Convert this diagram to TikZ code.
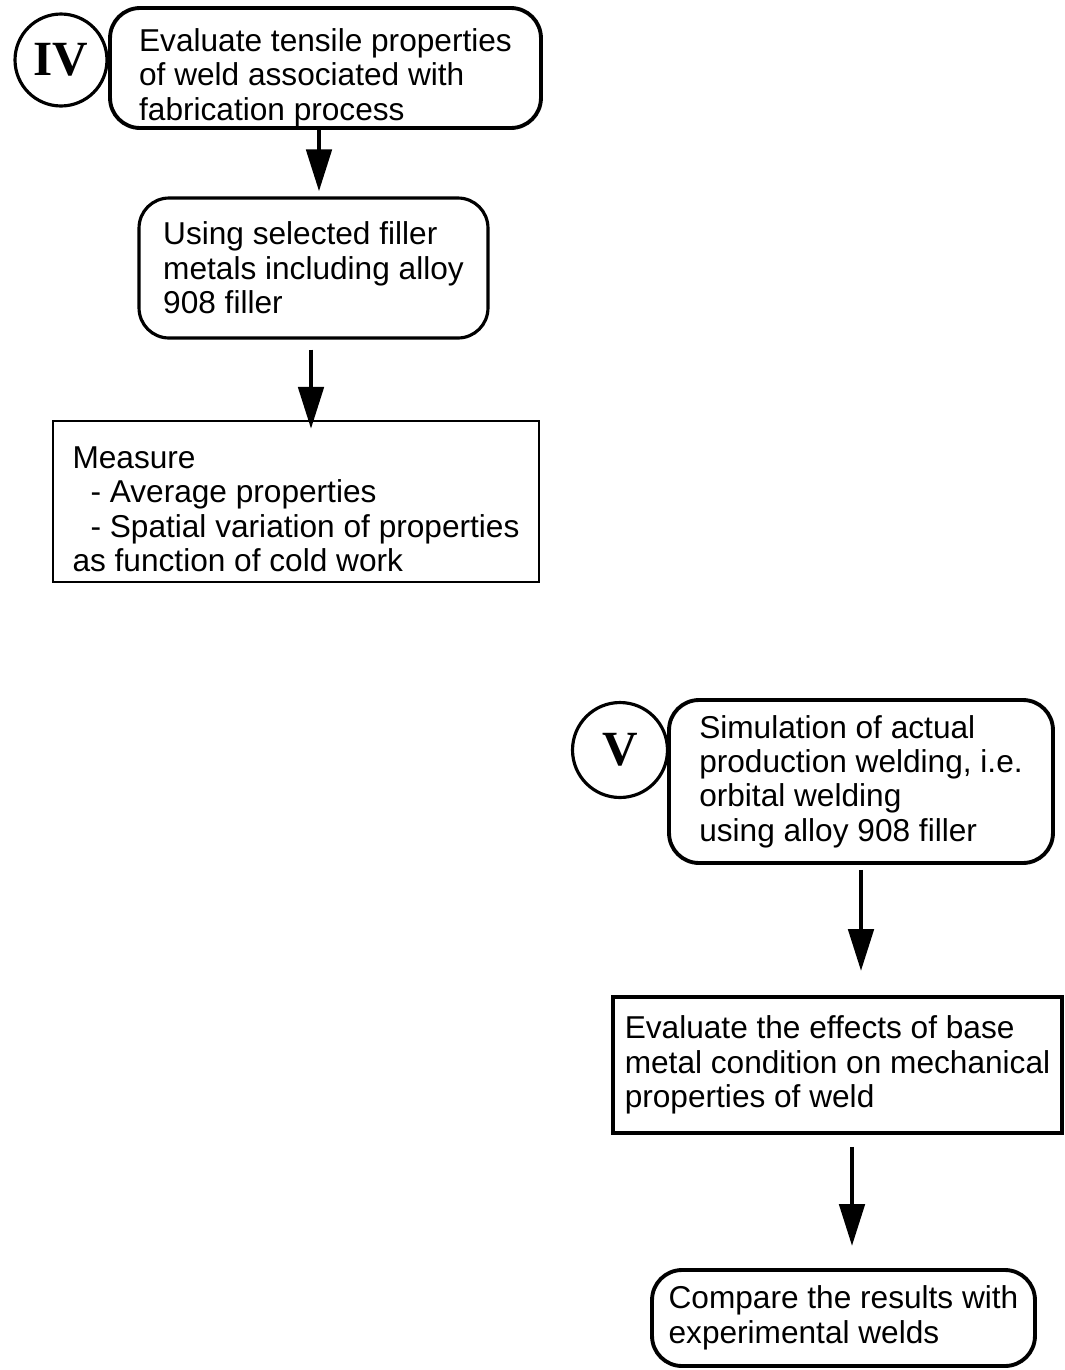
\documentclass[tikz,border=0pt]{standalone}
\usepackage{fontspec}
\setmainfont{Liberation Sans}
\newfontfamily\stagefont{Liberation Serif}
\usetikzlibrary{arrows.meta,positioning}

\begin{document}
\begin{tikzpicture}[x=0.02cm,y=-0.02cm,
  txt/.style={align=left,font=\fontsize{18}{19.6}\selectfont,inner sep=0pt},
  roundbox/.style={txt,draw,line width=2.2pt,rounded corners=0.6cm},
  plainbox/.style={txt,draw,line width=2.2pt},
  stage/.style={draw,circle,line width=1.8pt,inner sep=0pt,font=\stagefont\bfseries\fontsize{28}{28}\selectfont},
  flow/.style={line width=2.8pt,-{Triangle[length=0.84cm,width=0.5cm]}}]
\useasboundingbox (0,0) rectangle (1065,1370);
% stage IV
\node[stage,minimum size=1.84cm] (stageIV) at (61,60) {IV};
\node[roundbox,minimum width=8.62cm,minimum height=2.40cm] (weld) at (325.5,68)
  {\rule{0pt}{24pt}Evaluate tensile properties\\of weld associated with\\fabrication process};
\node[roundbox,line width=1.8pt,minimum width=6.98cm,minimum height=2.80cm] (filler) at (313.5,268)
  {Using selected filler\\metals including alloy\\908 filler};
\node[plainbox,line width=1.2pt,minimum width=9.72cm,minimum height=3.22cm] (measure) at (296,501.5)
  {\rule{0pt}{21pt}Measure\\\hspace*{0.36cm}- Average properties\\\hspace*{0.36cm}- Spatial variation of properties\\as function of cold work};
\draw[flow,shorten >=0.1cm] ([xshift=-0.13cm]weld.south) -- ([xshift=-0.13cm]weld.south |- filler.north);
\draw[flow,shorten <=0.2cm,shorten >=-0.18cm] ([xshift=-0.05cm]filler.south) -- ([xshift=-0.05cm]filler.south |- measure.north);
% stage V
\node[stage,minimum size=1.90cm] (stageV) at (620,750) {V};
\node[roundbox,minimum width=7.68cm,minimum height=3.26cm] (simulation) at (861,781.5)
  {Simulation of actual\\production welding, i.e.\\orbital welding\\using alloy 908 filler};
\node[plainbox,minimum width=8.98cm,minimum height=2.72cm] (effects) at (837.5,1065)
  {Evaluate the effects of base\\metal condition on mechanical\\properties of weld};
\node[roundbox,minimum width=7.66cm,minimum height=1.92cm] (compare) at (843.5,1318)
  {Compare the results with\\experimental welds};
\draw[flow,shorten <=0.1cm,shorten >=0.48cm] (simulation.south) -- (simulation.south |- effects.north);
\draw[flow,shorten <=0.24cm,shorten >=0.44cm] ([xshift=0.17cm]compare.north |- effects.south) -- ([xshift=0.17cm]compare.north);
\end{tikzpicture}
\end{document}
